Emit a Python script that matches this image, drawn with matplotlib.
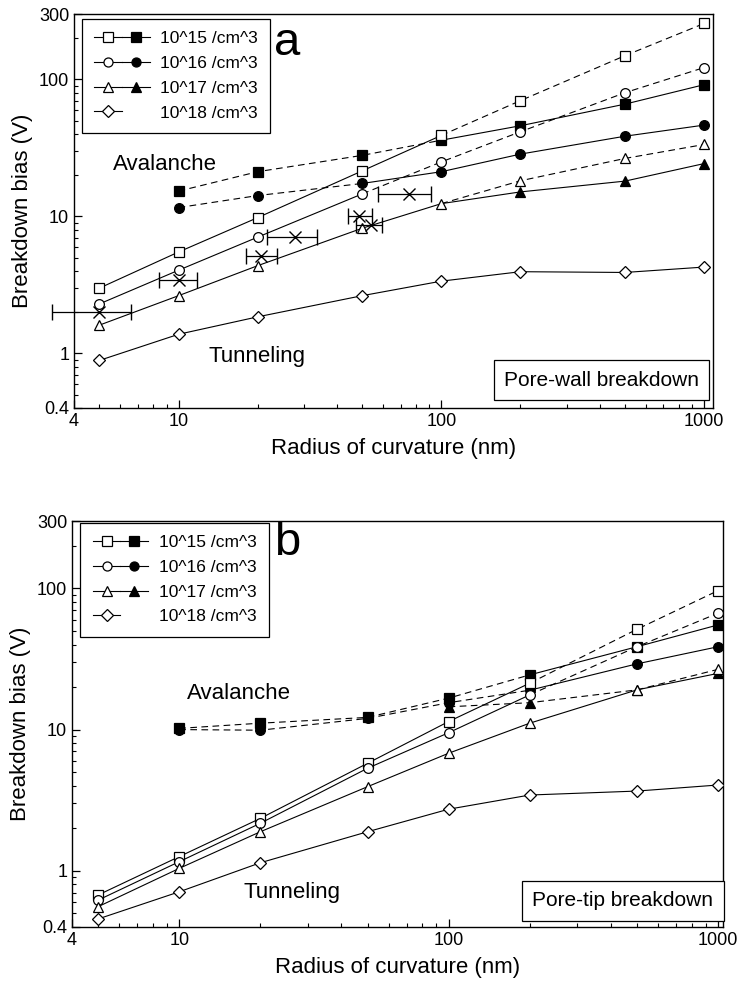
import numpy as np
import matplotlib
matplotlib.use("Agg")
import matplotlib.pyplot as plt
from matplotlib.legend_handler import HandlerTuple
from matplotlib.lines import Line2D

plt.rcParams['font.family'] = ['Liberation Sans', 'DejaVu Sans']

# radius of curvature (nm)
radius = [5, 10, 20, 50, 100, 200, 500, 1000]
labels = ["10^15 /cm^3", "10^16 /cm^3", "10^17 /cm^3", "10^18 /cm^3"]

# ---- panel a : pore-wall breakdown ----
a_tun15 = [3.0, 5.5, 9.8, 21.5, 39, 70, 149, 256]
a_tun16 = [2.3, 4.05, 7.06, 14.6, 25, 41.5, 80, 122]
a_tun17 = [1.61, 2.64, 4.37, 8.2, 12.4, 18.2, 26.5, 33.5]
a_tun18 = [0.89, 1.38, 1.85, 2.64, 3.37, 3.95, 3.9, 4.27]
a_av_r = [10, 20, 50, 100, 200, 500, 1000]
a_av15 = [15.3, 21.2, 27.9, 36, 45.9, 66, 91.5]
a_av16 = [11.6, 14.2, 17.4, 21.2, 28.5, 38.5, 46.4]
a_av17_r = [100, 200, 500, 1000]
a_av17 = [12.4, 15.1, 18.1, 24.3]

# measured points with horizontal error bars
a_exp_r = [5, 10, 20.6, 27.8, 48.7, 53.9, 75.4]
a_exp_v = [2.0, 3.45, 5.1, 7.1, 10.1, 8.65, 14.7]
a_exp_lo = [3.3, 8.4, 18.1, 21.7, 44.0, 47.3, 57.2]
a_exp_hi = [6.6, 11.8, 23.6, 33.6, 54.4, 59.7, 91.6]

# ---- panel b : pore-tip breakdown ----
b_tun15 = [0.674, 1.26, 2.35, 5.77, 11.4, 21.3, 51.3, 96.4]
b_tun16 = [0.62, 1.16, 2.17, 5.32, 9.5, 17.6, 38.6, 66.7]
b_tun17 = [0.557, 1.04, 1.89, 3.94, 6.8, 11.1, 19.1, 26.7]
b_tun18 = [0.456, 0.71, 1.14, 1.89, 2.73, 3.44, 3.67, 4.05]
b_av_r = [10, 20, 50, 100, 200, 500, 1000]
b_av15 = [10.2, 11.1, 12.2, 16.7, 24.4, 38.6, 55.1]
b_av16 = [10.0, 9.9, 12.0, 15.5, 19.0, 29.2, 38.6]
b_av17_r = [100, 200, 500, 1000]
b_av17 = [14.5, 15.5, 19.1, 25.0]


def series(ax, x, y, mk, mfc, solid, dashed, msize=7, skip=()):
    for (i0, i1) in solid:
        ax.plot(x[i0:i1 + 1], y[i0:i1 + 1], '-', color='k', lw=0.8, zorder=2)
    for (i0, i1) in dashed:
        ax.plot(x[i0:i1 + 1], y[i0:i1 + 1], color='k', lw=0.8, ls=(0, (6, 4)), zorder=2)
    idx = [i for i in range(len(x)) if i not in skip]
    ax.plot([x[i] for i in idx], [y[i] for i in idx], ls='none', marker=mk, ms=msize,
            mfc=mfc, mec='k', mew=0.9, zorder=3 if mfc == 'k' else 4)


def legend(ax, top):
    def h(mk, mfc):
        return Line2D([], [], color='k', lw=0.8, marker=mk, mfc=mfc, mec='k', ms=6.5, mew=0.9)
    blank = Line2D([], [], color='none', lw=0)
    handles = [(h('s', 'white'), h('s', 'k')),
               (h('o', 'white'), h('o', 'k')),
               (h('^', 'white'), h('^', 'k')),
               (h('D', 'white'), blank)]
    lg = ax.legend(handles, labels, handler_map={tuple: HandlerTuple(ndivide=None, pad=0)},
                   loc='upper left', bbox_to_anchor=(0.013, top), borderaxespad=0,
                   fontsize=12.5, handlelength=3.2, handletextpad=0.6, labelspacing=0.55,
                   borderpad=0.7, fancybox=False, edgecolor='k', framealpha=1)
    lg.get_frame().set_linewidth(0.9)


def style(ax, xmax, ymin):
    ax.set_xscale('log')
    ax.set_yscale('log')
    ax.set_xlim(4, xmax)
    ax.set_ylim(ymin, 300)
    ax.set_xticks([4, 10, 100, 1000])
    ax.set_xticklabels(['4', '10', '100', '1000'])
    ax.set_yticks([0.4, 1, 10, 100, 300])
    ax.set_yticklabels(['0.4', '1', '10', '100', '300'])
    ax.tick_params(which='major', direction='in', length=6, width=0.9, labelsize=13)
    ax.tick_params(which='minor', direction='in', length=3, width=0.8)
    for s in ax.spines.values():
        s.set_linewidth(1.0)
    ax.set_xlabel('Radius of curvature (nm)', fontsize=16, labelpad=6)
    ax.set_ylabel('Breakdown bias (V)', fontsize=16, labelpad=4)


fig = plt.figure(figsize=(7.38, 9.89), dpi=100)

# panel a
ax = fig.add_axes([0.1003, 0.5875, 0.8659, 0.3983])
style(ax, 1082, 0.4)
series(ax, radius, a_tun15, 's', 'white', [(0, 4)], [(4, 7)])
series(ax, radius, a_tun16, 'o', 'white', [(0, 3)], [(3, 7)])
series(ax, radius, a_tun17, '^', 'white', [(0, 4)], [(4, 7)])
series(ax, radius, a_tun18, 'D', 'white', [(0, 7)], [], msize=6)
series(ax, a_av_r, a_av15, 's', 'k', [(3, 6)], [(0, 3)])
series(ax, a_av_r, a_av16, 'o', 'k', [(2, 6)], [(0, 2)])
series(ax, a_av17_r, a_av17, '^', 'k', [(0, 3)], [], skip=(0,))
xe = np.array(a_exp_r)
ax.errorbar(a_exp_r, a_exp_v,
            xerr=[xe - np.array(a_exp_lo), np.array(a_exp_hi) - xe],
            fmt='x', color='k', ms=9, mew=1.0, elinewidth=0.9, capsize=6, capthick=0.9,
            zorder=5, clip_on=False)
legend(ax, 0.987)
ax.text(0.333, 0.926, 'a', transform=ax.transAxes, fontsize=34, ha='center', va='center')
ax.text(0.061, 0.617, 'Avalanche', transform=ax.transAxes, fontsize=16, ha='left', va='center')
ax.text(0.21, 0.13, 'Tunneling', transform=ax.transAxes, fontsize=16, ha='left', va='center')
ax.text(0.978, 0.07, 'Pore-wall breakdown', transform=ax.transAxes, fontsize=15,
        ha='right', va='center',
        bbox=dict(boxstyle='square,pad=0.5', fc='white', ec='k', lw=0.9))

# panel b
ax = fig.add_axes([0.0976, 0.0627, 0.8821, 0.4105])
style(ax, 1044, 0.4)
series(ax, radius, b_tun15, 's', 'white', [(0, 5)], [(5, 7)])
series(ax, radius, b_tun16, 'o', 'white', [(0, 5)], [(5, 7)])
series(ax, radius, b_tun17, '^', 'white', [(0, 6)], [(6, 7)])
series(ax, radius, b_tun18, 'D', 'white', [(0, 7)], [], msize=6)
series(ax, b_av_r, b_av16, 'o', 'k', [(4, 6)], [(0, 4)])
series(ax, b_av_r, b_av15, 's', 'k', [(4, 6)], [(0, 4)])
series(ax, b_av17_r, b_av17, '^', 'k', [(2, 3)], [(0, 2)])
legend(ax, 0.995)
ax.text(0.33, 0.946, 'b', transform=ax.transAxes, fontsize=34, ha='center', va='center')
ax.text(0.177, 0.576, 'Avalanche', transform=ax.transAxes, fontsize=16, ha='left', va='center')
ax.text(0.263, 0.086, 'Tunneling', transform=ax.transAxes, fontsize=16, ha='left', va='center')
ax.text(0.985, 0.065, 'Pore-tip breakdown', transform=ax.transAxes, fontsize=15,
        ha='right', va='center',
        bbox=dict(boxstyle='square,pad=0.5', fc='white', ec='k', lw=0.9))

fig.savefig('out.png', dpi=100)
